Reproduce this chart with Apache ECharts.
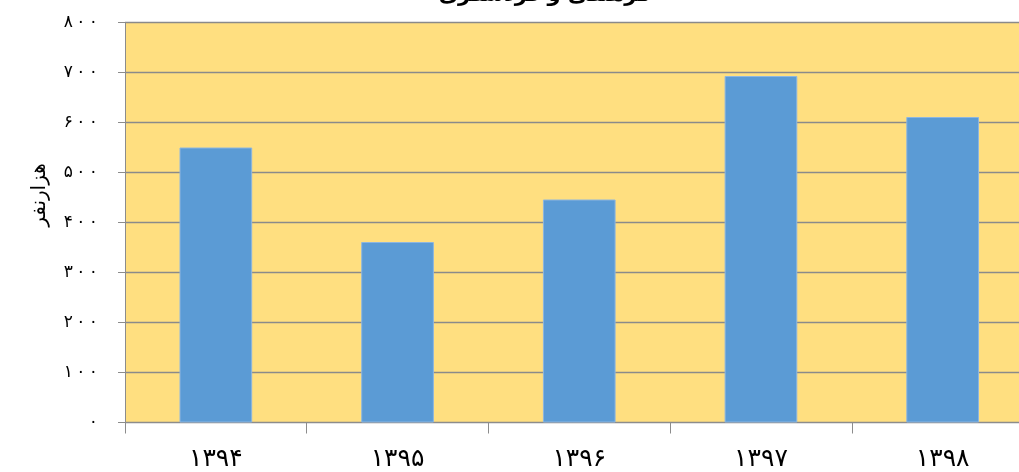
<!DOCTYPE html>
<html><head><meta charset="utf-8">
<script src="https://cdn.jsdelivr.net/npm/echarts@6/dist/echarts.min.js"></script>
<style>html,body{margin:0;padding:0;background:#fff}#c{width:1019px;height:472px}</style>
</head><body><div id="c"></div>
<script>
var categories = ['۱۳۹۴','۱۳۹۵','۱۳۹۶','۱۳۹۷','۱۳۹۸'];
var values = [550, 361, 446, 693, 611];
var yTickLabels = {0:'۰',100:'۱۰۰',200:'۲۰۰',300:'۳۰۰',400:'۴۰۰',500:'۵۰۰',600:'۶۰۰',700:'۷۰۰',800:'۸۰۰'};
var titleText = 'فرهنگی و گردشگری';
var yName = 'هزارنفر';

var chart = echarts.init(document.getElementById('c'));
chart.setOption({
  animation: false,
  backgroundColor: '#ffffff',
  grid: {left: 125, top: 22.5, width: 908.5, height: 400, show: true, backgroundColor: '#FFDF80', borderWidth: 0, outerBoundsMode: 'none', containLabel: false},
  xAxis: {
    type: 'category', data: categories,
    axisLine: {lineStyle: {color: '#8c8c8c', width: 1}},
    axisTick: {show: true, length: 11, lineStyle: {color: '#8c8c8c'}},
    axisLabel: {fontSize: 25, color: '#000', margin: 24, fontFamily: 'DejaVu Sans'}
  },
  yAxis: {
    type: 'value', min: 0, max: 800, interval: 100,
    axisLine: {show: true, lineStyle: {color: '#8c8c8c'}},
    axisTick: {show: true, length: 7, lineStyle: {color: '#8c8c8c'}},
    splitLine: {lineStyle: {color: '#8a8a8a', width: 1.3, type: 'solid'}},
    axisLabel: {fontSize: 17, color: '#000', margin: 27, fontFamily: 'DejaVu Sans',
      formatter: function(v){ return yTickLabels[v].split('').join('\u2009'); }}
  },
  series: [{
    type: 'bar', data: values, barWidth: '40%',
    itemStyle: {color: '#5B9BD5', borderColor: '#8DB6E0', borderWidth: 1}
  }],
  graphic: [
    {type: 'text', x: 545, y: -15, style: {text: titleText, fontSize: 21, fontWeight: 'bold', fill: '#000', fontFamily: 'DejaVu Sans', align: 'center', verticalAlign: 'top'}},
    {type: 'text', x: 40, y: 195, rotation: Math.PI/2, style: {text: yName, fontSize: 20, fill: '#000', fontFamily: 'DejaVu Sans', align: 'center', verticalAlign: 'middle'}}
  ]
});
</script></body></html>
